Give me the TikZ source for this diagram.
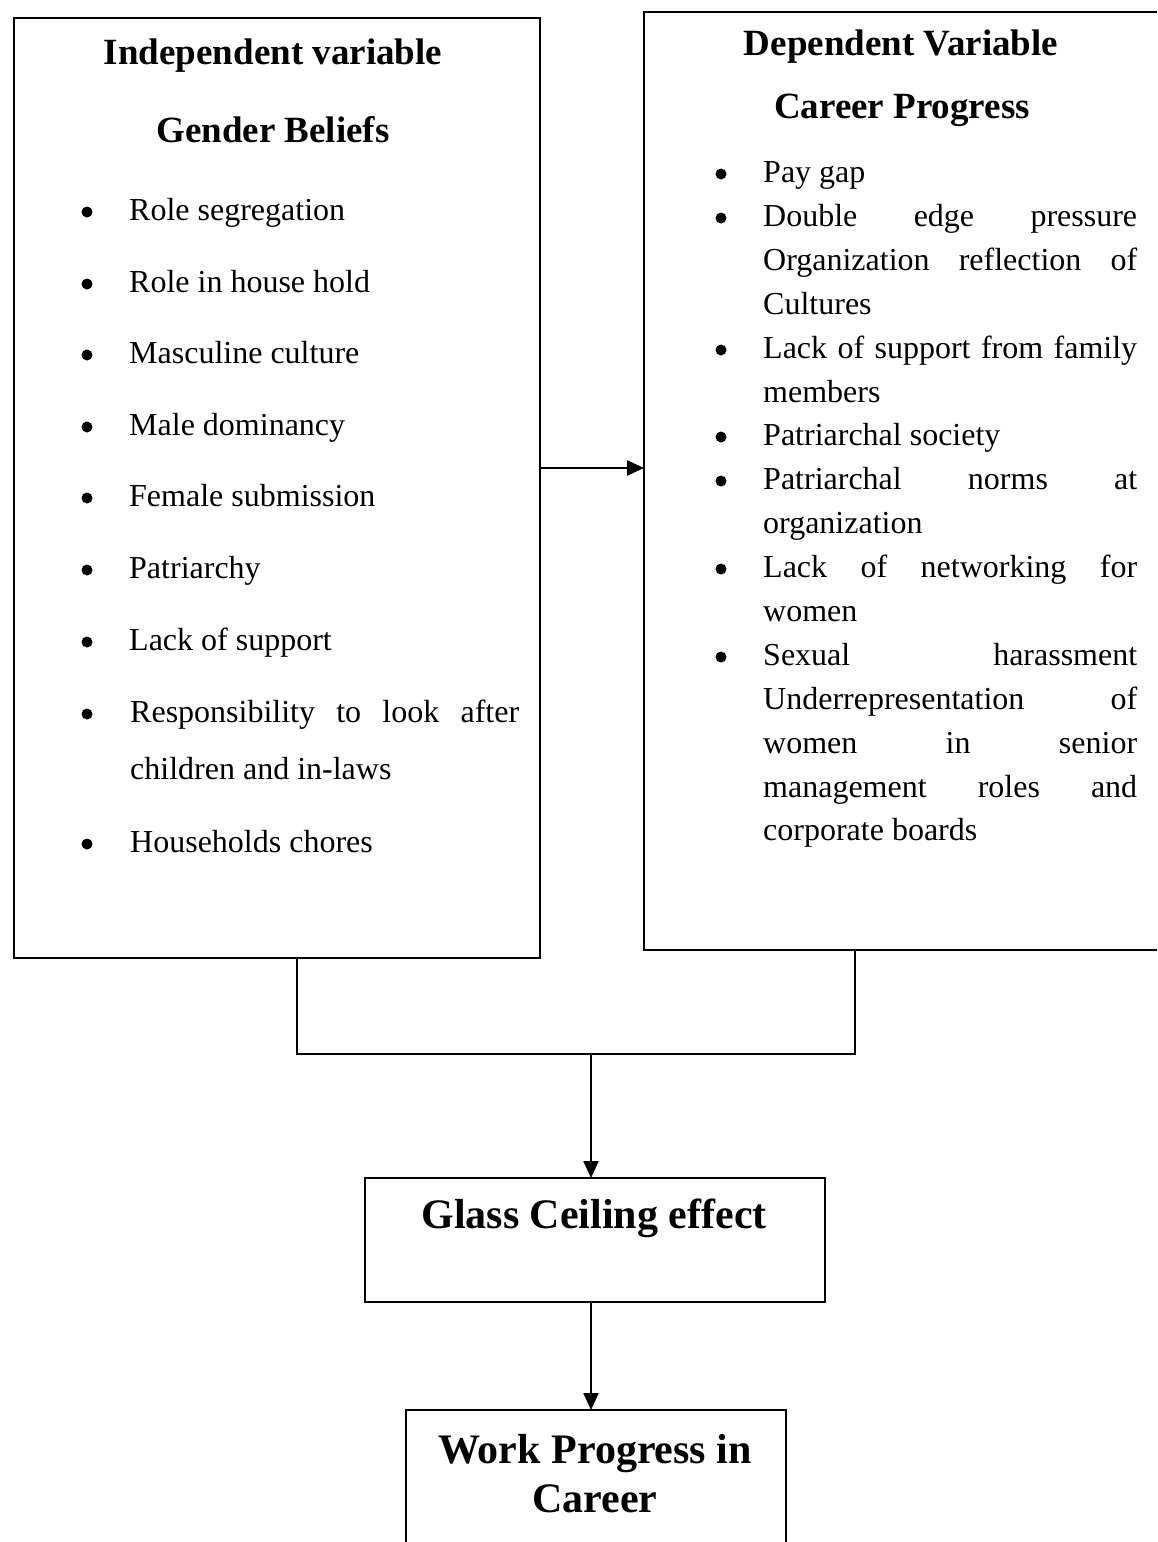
\documentclass[tikz,border=0pt]{standalone}
\usepackage{fontspec}
\setmainfont{Liberation Serif}
\usetikzlibrary{arrows.meta}
\newcommand{\jr}[1]{\makebox[374pt][s]{#1}}
\newcommand{\jlft}[1]{\makebox[389pt][s]{#1}}
\begin{document}
\begin{tikzpicture}[x=1pt,y=-1pt,
  box/.style={draw, line width=2.8pt, inner sep=0, outer sep=0},
  conn/.style={line width=2.4pt},
  arr/.style={conn, -{Triangle[length=17pt,width=15pt]}},
  body/.style={anchor=base west, inner sep=0, font=\fontsize{32}{38}\selectfont},
  head/.style={anchor=base, inner sep=0, font=\fontsize{37}{44}\selectfont\bfseries},
  big/.style={anchor=base, inner sep=0, font=\fontsize{42}{49}\selectfont\bfseries},
  bul/.style={circle, fill, inner sep=0, minimum size=11pt}]
\path[use as bounding box, clip] (0,0) rectangle (1157,1542);
\fill[white] (0,0) rectangle (1157,1542);
% boxes
\node[box, anchor=north west, minimum width=526pt, minimum height=940pt] (indep) at (14,18) {};
\node[box, anchor=north west, minimum width=540pt, minimum height=938pt] (depv) at (644,12) {};
\node[box, anchor=north west, minimum width=460pt, minimum height=124pt] (glass) at (365,1178) {};
\node[box, anchor=north west, minimum width=380pt, minimum height=170pt] (work) at (406,1410) {};
% left headings
\node[head] (h1) at (273,64) {Independent variable};
\node[head] (h2) at (273,142) {Gender Beliefs};
% left items
\foreach \t/\y [count=\i] in {Role segregation/220, Role in house hold/292, Masculine culture/363, Male dominancy/435, Female submission/506, Patriarchy/578, Lack of support/650}{
  \node[bul] (lb\i) at (87,\y-8) {};
  \node[body] (lt\i) at (129,\y) {\t};
}
\node[bul] (lb8) at (87,714) {};
\node[body] (lt8) at (130,722) {\jlft{Responsibility to look after}};
\node[body] (lt8b) at (130,779) {children and in-laws};
\node[bul] (lb9) at (87,844) {};
\node[body] (lt9) at (130,852) {Households chores};
% right headings
\node[head] (h3) at (901,55) {Dependent Variable};
\node[head] (h4) at (902,118) {Career Progress};
% right items
\node[body] (r0) at (763,182) {Pay gap};
\node[body] (r1) at (763,226) {\jr{Double edge pressure}};
\node[body] (r2) at (763,270) {\jr{Organization reflection of}};
\node[body] (r3) at (763,314) {Cultures};
\node[body] (r4) at (763,358) {\jr{Lack of support from family}};
\node[body] (r5) at (763,402) {members};
\node[body] (r6) at (763,445) {Patriarchal society};
\node[body] (r7) at (763,489) {\jr{Patriarchal norms at}};
\node[body] (r8) at (763,533) {organization};
\node[body] (r9) at (763,577) {\jr{Lack of networking for}};
\node[body] (r10) at (763,621) {women};
\node[body] (r11) at (763,665) {\jr{Sexual harassment}};
\node[body] (r12) at (763,709) {\jr{Underrepresentation of}};
\node[body] (r13) at (763,753) {\jr{women in senior}};
\node[body] (r14) at (763,797) {\jr{management roles and}};
\node[body] (r15) at (763,840) {corporate boards};
\foreach \y [count=\i] in {182,226,358,445,489,577,665}{
  \node[bul] (rb\i) at (721,\y-8) {};
}
% bottom texts
\node[big] (gt) at (594,1228) {Glass Ceiling effect};
\node[big] (wt1) at (595,1463) {Work Progress in};
\node[big] (wt2) at (595,1512) {Career};
% connectors
\coordinate (lleg) at ([xshift=20pt]indep.south);
\coordinate (rleg) at ([xshift=-59pt]depv.south);
\coordinate (join) at (591,1054);
\draw[arr] ([yshift=20pt]indep.east) -- ([yshift=20pt]indep.east -| depv.west);
\draw[conn] (lleg) |- (join) -| (rleg);
\draw[arr] (join) -- (join |- glass.north);
\draw[arr] (glass.south -| join) -- (work.north -| join);
\end{tikzpicture}
\end{document}
